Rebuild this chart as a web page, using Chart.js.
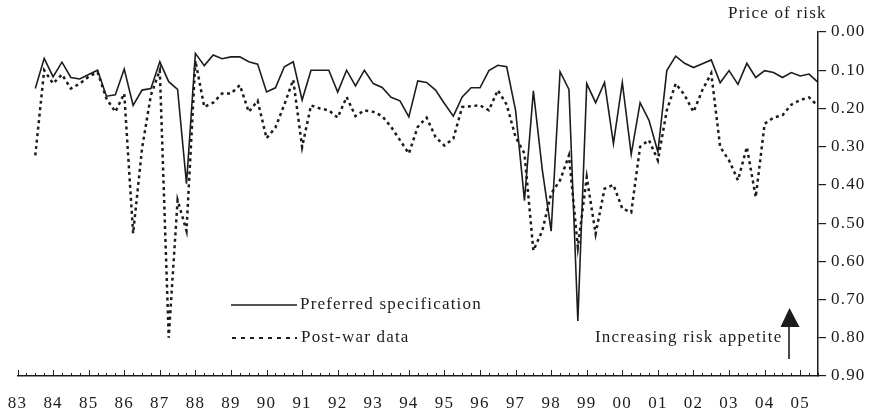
<!DOCTYPE html>
<html>
<head>
<meta charset="utf-8">
<title>Price of risk</title>
<script src="https://cdn.jsdelivr.net/npm/chart.js@4.4.1/dist/chart.umd.min.js"></script>
<style>
    html, body { margin: 0; padding: 0; background: #fff; }
    .chart-box { position: relative; width: 869px; height: 418px; }
</style>
</head>
<body>
<div class="chart-box"><canvas id="riskChart"></canvas></div>
<script>
// x axis: quarters counted from 1983 Q1, one label per year
const yearLabels = ['83', '84', '85', '86', '87', '88', '89', '90', '91', '92', '93', '94',
    '95', '96', '97', '98', '99', '00', '01', '02', '03', '04', '05'];
const startQuarter = 2;   // first observation: 1983 Q3
const lastQuarter = 90;

// y axis (reversed)
const yTicks = [0, 0.1, 0.2, 0.3, 0.4, 0.5, 0.6, 0.7, 0.8, 0.9];

const preferred = [
    0.148, 0.069, 0.117, 0.079, 0.119, 0.123, 0.111, 0.100, 0.168, 0.164,
    0.097, 0.192, 0.152, 0.148, 0.078, 0.130, 0.150, 0.397, 0.056, 0.088,
    0.060, 0.070, 0.065, 0.065, 0.078, 0.084, 0.157, 0.146, 0.091, 0.078,
    0.178, 0.100, 0.100, 0.100, 0.157, 0.100, 0.141, 0.100, 0.135, 0.145,
    0.171, 0.180, 0.222, 0.128, 0.132, 0.152, 0.187, 0.220, 0.170, 0.146,
    0.146, 0.101, 0.087, 0.091, 0.205, 0.441, 0.154, 0.360, 0.521, 0.104,
    0.150, 0.756, 0.135, 0.185, 0.132, 0.292, 0.132, 0.320, 0.185, 0.231,
    0.314, 0.101, 0.063, 0.082, 0.093, 0.083, 0.073, 0.133, 0.101, 0.137,
    0.082, 0.119, 0.101, 0.106, 0.119, 0.106, 0.115, 0.110, 0.132
];

const postWar = [
    0.323, 0.100, 0.135, 0.111, 0.148, 0.135, 0.117, 0.105, 0.174, 0.209,
    0.161, 0.527, 0.305, 0.165, 0.100, 0.800, 0.440, 0.520, 0.075, 0.196,
    0.185, 0.161, 0.161, 0.139, 0.209, 0.180, 0.278, 0.250, 0.190, 0.125,
    0.301, 0.192, 0.200, 0.205, 0.224, 0.170, 0.220, 0.205, 0.209, 0.220,
    0.248, 0.283, 0.318, 0.248, 0.224, 0.275, 0.297, 0.279, 0.196, 0.194,
    0.192, 0.205, 0.152, 0.190, 0.275, 0.318, 0.572, 0.520, 0.423, 0.388,
    0.323, 0.563, 0.380, 0.528, 0.410, 0.400, 0.462, 0.472, 0.300, 0.283,
    0.336, 0.205, 0.135, 0.165, 0.209, 0.152, 0.108, 0.301, 0.336, 0.388,
    0.301, 0.432, 0.240, 0.224, 0.218, 0.190, 0.178, 0.171, 0.194
];

const INK = '#1c1c1c';
const FONT = "'Liberation Serif', 'Times New Roman', serif";

function toPoints(values) {
    return values.map((v, i) => ({ x: startQuarter + i, y: v }));
}

// letter spacing like the printed figure
const spacingPlugin = {
    id: 'spacing',
    beforeDraw(chart) {
        chart.ctx.letterSpacing = '1.2px';
    }
};

// quarter ticks, titles, legend and arrow
const overlayPlugin = {
    id: 'overlay',
    afterDraw(chart) {
        const ctx = chart.ctx;
        const x = chart.scales.x;
        const bottom = chart.chartArea.bottom;

        ctx.save();
        ctx.strokeStyle = INK;
        ctx.lineWidth = 1;
        for (let q = 0; q <= lastQuarter; q++) {
            const px = Math.round(x.getPixelForValue(q)) + 0.5;
            ctx.beginPath();
            ctx.moveTo(px, bottom);
            ctx.lineTo(px, bottom - (q % 4 === 0 ? 6 : 3));
            ctx.stroke();
        }

        ctx.fillStyle = INK;
        ctx.font = '17px ' + FONT;
        ctx.textBaseline = 'middle';
        ctx.textAlign = 'left';
        ctx.fillText('Price of risk', 728, 14);

        // legend
        ctx.lineWidth = 1.6;
        ctx.beginPath();
        ctx.moveTo(231, 305);
        ctx.lineTo(297, 305);
        ctx.stroke();
        ctx.fillText('Preferred specification', 300, 305);

        ctx.lineWidth = 2;
        ctx.setLineDash([4, 5]);
        ctx.beginPath();
        ctx.moveTo(232, 338);
        ctx.lineTo(297, 338);
        ctx.stroke();
        ctx.setLineDash([]);
        ctx.fillText('Post-war data', 301, 338);

        // annotation
        ctx.fillText('Increasing risk appetite', 595, 338);
        ctx.lineWidth = 1.6;
        ctx.beginPath();
        ctx.moveTo(789, 359);
        ctx.lineTo(789, 326);
        ctx.stroke();
        ctx.beginPath();
        ctx.moveTo(780.5, 327);
        ctx.lineTo(799.5, 327);
        ctx.lineTo(789.5, 308);
        ctx.closePath();
        ctx.fill();
        ctx.restore();
    }
};

function initRiskChart() {
    const ctx = document.getElementById('riskChart').getContext('2d');

    new Chart(ctx, {
        type: 'line',
        data: {
            datasets: [
                {
                    label: 'Preferred specification',
                    data: toPoints(preferred),
                    borderColor: INK,
                    borderWidth: 1.6,
                    pointRadius: 0,
                    tension: 0
                },
                {
                    label: 'Post-war data',
                    data: toPoints(postWar),
                    borderColor: INK,
                    borderWidth: 2.5,
                    borderDash: [3, 3.5],
                    pointRadius: 0,
                    tension: 0
                }
            ]
        },
        options: {
            responsive: true,
            maintainAspectRatio: false,
            animation: false,
            layout: {
                padding: { top: 32, left: 15, right: 0, bottom: 0 }
            },
            scales: {
                x: {
                    type: 'linear',
                    min: 0,
                    max: lastQuarter,
                    grid: { display: false },
                    border: { display: true, color: INK, width: 1.5 },
                    afterBuildTicks: scale => {
                        scale.ticks = yearLabels.map((_, k) => ({ value: k * 4 }));
                    },
                    afterFit: scale => { scale.height = 42; },
                    ticks: {
                        autoSkip: false,
                        maxRotation: 0,
                        padding: 9,
                        color: INK,
                        font: { family: FONT, size: 17 },
                        callback: v => yearLabels[v / 4]
                    }
                },
                y: {
                    position: 'right',
                    reverse: true,
                    min: 0,
                    max: 0.9,
                    afterBuildTicks: scale => {
                        scale.ticks = yTicks.map(v => ({ value: v }));
                    },
                    afterFit: scale => { scale.width = 51; },
                    grid: {
                        drawOnChartArea: false,
                        drawTicks: true,
                        tickLength: 8,
                        color: INK,
                        lineWidth: 1.2
                    },
                    border: { display: true, color: INK, width: 1.5 },
                    ticks: {
                        padding: 5,
                        color: INK,
                        font: { family: FONT, size: 17 },
                        callback: v => v.toFixed(2)
                    }
                }
            },
            plugins: {
                legend: { display: false },
                tooltip: { enabled: false }
            }
        },
        plugins: [spacingPlugin, overlayPlugin]
    });
}

document.addEventListener('DOMContentLoaded', initRiskChart);
</script>
</body>
</html>
